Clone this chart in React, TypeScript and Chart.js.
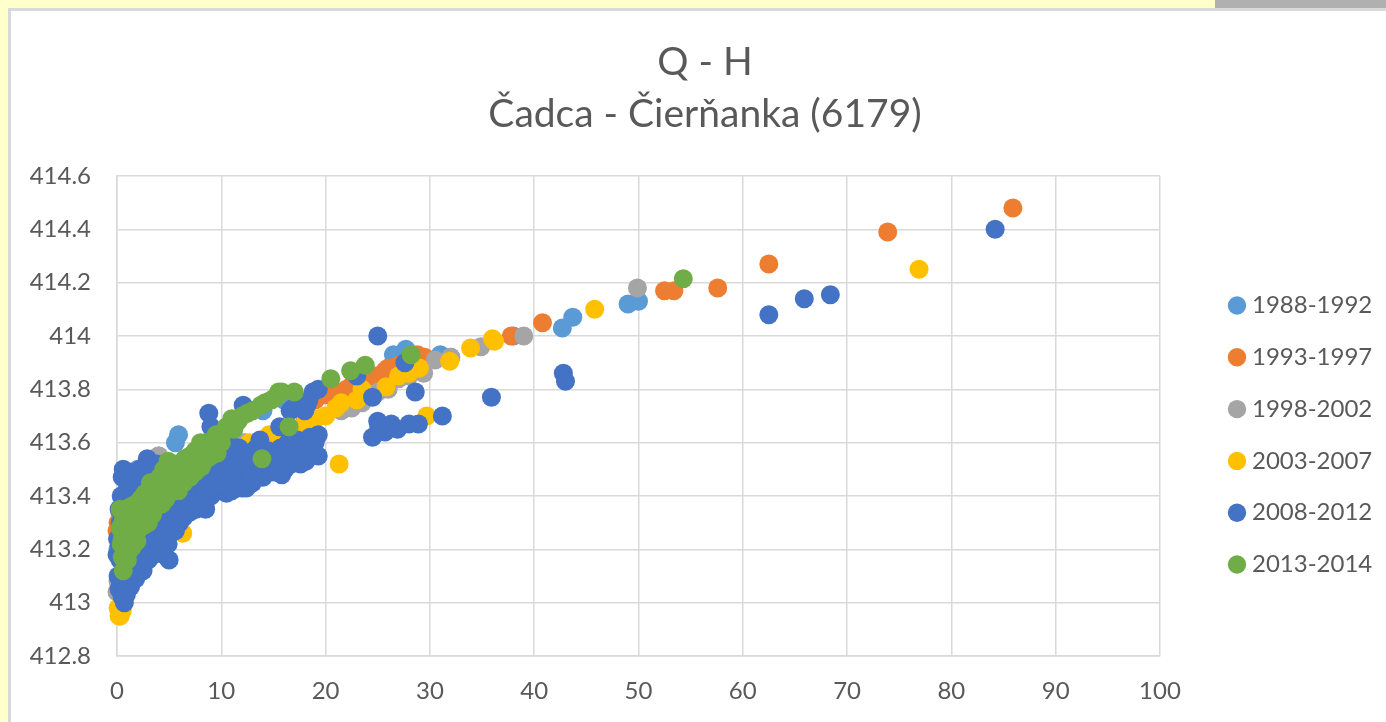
import React, { useEffect, useRef } from "react";
import { Chart, registerables } from "chart.js";

Chart.register(...registerables);

const seriesNames = ["1988-1992", "1993-1997", "1998-2002", "2003-2007", "2008-2012", "2013-2014"];
const seriesColors = ["#5B9BD5", "#ED7D31", "#A5A5A5", "#FFC000", "#4472C4", "#70AD47"];
const titleLines = ["Q - H", "Čadca - Čierňanka (6179)"];
const yTickLabels = ["412.8", "413", "413.2", "413.4", "413.6", "413.8", "414", "414.2", "414.4", "414.6"];

type P = [number, number];

const s1988: P[] = [
  [0.1, 413.2], [0.4, 413.3], [1, 413.4], [2, 413.5], [3, 413.53], [4, 413.55], [5.6, 413.6], [5.9, 413.63],
  [14, 413.72], [16, 413.76], [24, 413.85], [26.5, 413.93], [27.7, 413.95], [27.2, 413.91], [31, 413.93], [32, 413.92],
  [38, 414.0], [42.7, 414.03], [43.7, 414.07], [49, 414.12], [50, 414.13],
];
const s1993: P[] = [
  [0, 413.27], [0.1, 413.3], [0.3, 413.33], [12.3, 413.6], [18, 413.74], [19, 413.76], [20, 413.78], [21, 413.79],
  [22, 413.8], [22.6, 413.82], [23, 413.81], [24, 413.83], [24.7, 413.85], [25, 413.85], [25.7, 413.87], [26, 413.88],
  [27, 413.89], [28, 413.9], [28.8, 413.93], [29.5, 413.92], [37.8, 414.0], [40.8, 414.05], [52.5, 414.17], [53.4, 414.17],
  [57.6, 414.18], [62.5, 414.27], [73.9, 414.39], [85.9, 414.48],
];
const s1998: P[] = [
  [0, 413.04], [0.1, 413.08], [4, 413.55], [12, 413.6], [18, 413.7], [21.5, 413.72], [22.5, 413.73], [23.5, 413.75],
  [24, 413.78], [25, 413.79], [26, 413.8], [27, 413.84], [28, 413.85], [29.4, 413.86], [30.5, 413.91], [32, 413.92],
  [34.9, 413.96], [39, 414.0], [49.9, 414.18],
];
const s2003: P[] = [
  [0.2, 412.95], [0.3, 412.95], [0.1, 412.98], [0.5, 412.97], [0.7, 413.0], [6.3, 413.26], [12, 413.53], [13.5, 413.55],
  [12.7, 413.6], [14, 413.56], [14.6, 413.63], [15, 413.6], [15.6, 413.64], [16, 413.62], [16.5, 413.66], [17, 413.65],
  [18, 413.67], [19, 413.69], [20, 413.7], [21, 413.73], [21.5, 413.75], [23, 413.76], [25.8, 413.81], [27, 413.85],
  [28, 413.86], [29, 413.88], [23.5, 413.8], [29.7, 413.7], [21.3, 413.52], [31.9, 413.905], [33.9, 413.955], [36, 413.99],
  [36.2, 413.98], [45.8, 414.1], [76.9, 414.25],
];
const s2008: P[] = [
  [0, 413.18], [0.05, 413.24], [0.1, 413.1], [0.2, 413.05], [0.3, 413.16], [0.3, 413.3], [0.4, 413.4], [0.5, 413.47],
  [0.6, 413.5], [0.5, 413.02], [0.7, 413.0], [0.9, 413.03], [0.8, 413.12], [0.9, 413.21], [1, 413.33], [1, 413.43],
  [1.1, 413.49], [1.3, 413.06], [1.4, 413.14], [1.5, 413.25], [1.6, 413.38], [1.5, 413.46], [1.8, 413.09], [2, 413.18],
  [2, 413.3], [2.1, 413.41], [2.2, 413.5], [2.5, 413.12], [2.6, 413.22], [2.7, 413.34], [2.6, 413.45], [2.9, 413.54],
  [3, 413.16], [3.2, 413.27], [3.3, 413.39], [3.4, 413.48], [3.5, 413.18], [3.8, 413.23], [3.9, 413.33], [4, 413.43],
  [4.2, 413.5], [4.5, 413.25], [4.6, 413.35], [4.8, 413.46], [5, 413.16], [5, 413.27], [5.3, 413.3], [5.4, 413.4],
  [5.6, 413.5], [6, 413.3], [6.1, 413.38], [6.3, 413.47], [6.6, 413.53], [7, 413.34], [7.1, 413.43], [7.4, 413.5],
  [7.6, 413.35], [8, 413.36], [8.2, 413.45], [8.5, 413.35], [8.6, 413.53], [8.8, 413.71], [9, 413.66], [9, 413.4],
  [9.2, 413.48], [9.4, 413.58], [9.8, 413.42], [10, 413.5], [10.3, 413.56], [10.5, 413.41], [10.8, 413.46], [11, 413.42],
  [11.3, 413.52], [11.7, 413.58], [12, 413.43], [12.1, 413.74], [12.3, 413.47], [12.5, 413.53], [13, 413.45], [13.2, 413.5],
  [13.4, 413.58], [13.7, 413.61], [14, 413.47], [14.3, 413.53], [15, 413.49], [15.3, 413.55], [15.6, 413.66], [15.8, 413.48],
  [16, 413.54], [16.4, 413.6], [16.6, 413.72], [17, 413.56], [17.3, 413.61], [17.6, 413.52], [18, 413.57], [18.2, 413.74],
  [18.5, 413.55], [18.5, 413.62], [18.8, 413.79], [19.3, 413.55], [19.3, 413.63], [19.3, 413.8], [23, 413.85], [24.5, 413.62],
  [24.5, 413.77], [25, 413.68], [25.1, 413.66], [25, 414.0], [25.7, 413.64], [26.3, 413.67], [26.9, 413.65], [28, 413.67],
  [28.6, 413.79], [27.6, 413.9], [28.9, 413.67], [31.2, 413.7], [35.9, 413.77], [42.8, 413.86], [43, 413.83], [62.5, 414.08],
  [65.9, 414.14], [68.4, 414.155], [84.2, 414.4],
  [0.3, 413.08], [0.2, 413.22], [0.2, 413.35], [0.4, 413.27], [0.7, 413.08], [0.7, 413.17], [0.8, 413.29], [0.8, 413.38],
  [1.2, 413.1], [1.2, 413.19], [1.3, 413.29], [1.3, 413.42], [1.7, 413.15], [1.8, 413.22], [1.8, 413.34], [1.8, 413.45],
  [2.3, 413.16], [2.3, 413.26], [2.4, 413.37], [2.5, 413.5], [2.9, 413.2], [2.9, 413.3], [3, 413.42], [3.1, 413.52],
  [3.5, 413.24], [3.6, 413.35], [3.7, 413.45], [3.8, 413.52], [4.2, 413.2], [4.2, 413.3], [4.3, 413.39], [4.5, 413.48],
  [4.5, 413.18], [4.9, 413.22], [5, 413.33], [5, 413.43], [5.2, 413.52], [5.6, 413.27], [5.7, 413.35], [5.8, 413.44],
  [6.4, 413.32], [6.5, 413.42], [6.6, 413.47], [6.9, 413.39], [7, 413.48], [7.2, 413.55], [7.7, 413.4], [7.8, 413.47],
  [7.9, 413.54], [8.3, 413.38], [8.5, 413.42], [8.7, 413.47], [9.1, 413.43], [9.3, 413.53], [9.6, 413.46], [9.7, 413.52],
  [9.9, 413.6], [10.2, 413.44], [10.4, 413.5], [10.7, 413.53], [10.9, 413.59], [11.2, 413.46], [11.5, 413.43], [11.6, 413.5],
  [11.9, 413.54], [12.2, 413.56], [12.4, 413.43], [12.7, 413.49], [12.8, 413.55], [13.1, 413.57], [13.5, 413.47], [13.6, 413.53],
  [13.9, 413.57], [14.2, 413.49], [14.5, 413.57], [14.7, 413.51], [14.9, 413.55], [15.1, 413.52], [15.5, 413.5], [15.7, 413.58],
  [16.1, 413.5], [16.3, 413.56], [16.7, 413.52], [16.8, 413.59], [17.2, 413.54], [17.7, 413.59], [18.1, 413.53], [18.3, 413.59],
  [18.8, 413.57], [19, 413.6], [16.9, 413.73], [17.4, 413.75], [18, 413.72], [18.4, 413.76],
];
const s2013: P[] = [
  [0.6, 413.12], [0.5, 413.17], [0.4, 413.22], [0.3, 413.28], [0.3, 413.35], [0.7, 413.2], [0.8, 413.27], [0.9, 413.35],
  [1.1, 413.19], [1.2, 413.27], [1.3, 413.36], [1.9, 413.23], [1.7, 413.3], [1.8, 413.37], [2.2, 413.32], [2.3, 413.39],
  [2.6, 413.29], [2.8, 413.36], [3.2, 413.45], [3.4, 413.33], [3.6, 413.41], [4.3, 413.37], [4.1, 413.47], [4.9, 413.53],
  [5, 413.41], [5.2, 413.47], [5.9, 413.42], [6.1, 413.5], [7, 413.55], [7, 413.47], [8.1, 413.51], [8, 413.6],
  [8.5, 413.6], [9, 413.55], [9.6, 413.56], [9.5, 413.63], [10.5, 413.66], [11, 413.69], [12, 413.7], [13, 413.72],
  [13.8, 413.74], [13.9, 413.54], [14.8, 413.76], [15.5, 413.79], [15.8, 413.79], [16.5, 413.66], [17, 413.79], [20.5, 413.84],
  [22.4, 413.87], [23.8, 413.89], [28.2, 413.93], [54.3, 414.215],
  [0.5, 413.24], [0.6, 413.31], [1, 413.16], [1.5, 413.21], [1.5, 413.32], [2, 413.27], [2.1, 413.36], [2.5, 413.34],
  [2.7, 413.41], [3, 413.3], [3, 413.39], [3.7, 413.36], [3.8, 413.45], [4.4, 413.43], [4.5, 413.5], [4.7, 413.39],
  [5.5, 413.44], [5.5, 413.52], [6.4, 413.45], [6.5, 413.54], [6.8, 413.51], [7.5, 413.49], [7.5, 413.57], [8.6, 413.54],
  [9.2, 413.6], [10, 413.6], [10.2, 413.64], [11.2, 413.65], [11.6, 413.68], [12.5, 413.71], [14.2, 413.75], [15.2, 413.77],
];

const seriesData = [s1988, s1993, s1998, s2003, s2008, s2013];

export default function App() {
  const ref = useRef<HTMLCanvasElement>(null);
  useEffect(() => {
    document.body.style.margin = "0";
    document.body.style.overflow = "hidden";
    const font = "Lato, 'Open Sans', sans-serif";
    const chart = new Chart(ref.current!, {
      type: "scatter",
      data: {
        datasets: seriesData.map((d, i) => ({
          label: seriesNames[i],
          data: d.map(([x, y]) => ({ x, y })),
          backgroundColor: seriesColors[i],
          borderColor: seriesColors[i],
          pointRadius: 9.5,
          pointBorderWidth: 0,
          pointHoverRadius: 9.5,
          order: seriesData.length - i,
          clip: false,
        })),
      },
      plugins: [
        {
          id: "placeBoxes",
          afterLayout(c: any) {
            c.titleBlock.left = 0;
            c.titleBlock.right = 1362;
            const lg = c.legend;
            const dy = 74;
            lg.left = 1234 - 24 - 27.8;
            lg.right = 1362;
            lg.top += dy;
            lg.bottom += dy;
          },
        },
      ],
      options: {
        animation: false,
        responsive: false,
        layout: { padding: { right: 50, left: 0, top: 0, bottom: 0 } },
        plugins: {
          tooltip: { enabled: false },
          title: {
            display: true,
            text: titleLines,
            color: "#595959",
            font: { family: font, size: 39, weight: "normal", lineHeight: 52 / 39 },
            padding: { top: 36, bottom: 36 },
          },
          legend: {
            display: true,
            position: "right",
            labels: {
              usePointStyle: true,
              pointStyle: "circle",
              boxWidth: 6,
              boxHeight: 13,
              padding: 27.8,
              color: "#595959",
              font: { family: font, size: 24 },
              generateLabels: () =>
                seriesNames.map((n, i) => ({
                  text: n,
                  fillStyle: seriesColors[i],
                  strokeStyle: seriesColors[i],
                  lineWidth: 0,
                  pointStyle: "circle",
                  fontColor: "#595959",
                  datasetIndex: i,
                  hidden: false,
                })),
            },
          },
        },
        scales: {
          x: {
            type: "linear",
            min: 0,
            max: 100,
            ticks: { stepSize: 10, color: "#595959", font: { family: font, size: 24 }, padding: 21, maxRotation: 0 },
            grid: { color: "#D9D9D9", lineWidth: 1.5, drawTicks: false },
            border: { color: "#D9D9D9", width: 1.5 },
            afterFit: (s: any) => { s.height = 66; },
          },
          y: {
            type: "linear",
            min: 412.8,
            max: 414.6,
            afterBuildTicks: (s: any) => {
              s.ticks = yTickLabels.map((v) => ({ value: Number(v) }));
            },
            ticks: {
              color: "#595959",
              font: { family: font, size: 24 },
              padding: 26,
              callback: (v: any) => yTickLabels.find((t) => Number(t) === Number(v)) ?? "",
            },
            grid: { color: "#D9D9D9", lineWidth: 1.5, drawTicks: false },
            border: { color: "#D9D9D9", width: 1.5 },
            afterFit: (s: any) => { s.width = 93; },
          },
        },
      },
    } as any);
    return () => chart.destroy();
  }, []);

  return (
    <div style={{ position: "absolute", left: 0, top: 0, width: 1386, height: 722, background: "#FFFFCC", overflow: "hidden" }}>
      <div style={{ position: "absolute", left: 1215, top: 0, width: 171, height: 9, background: "#B0B0B0" }} />
      <div
        style={{
          position: "absolute",
          left: 8,
          top: 8,
          width: 1378,
          height: 714,
          background: "#FFFFFF",
          borderLeft: "3px solid #D9D9D9",
          borderTop: "3px solid #D9D9D9",
          boxSizing: "border-box",
        }}
      />
      <canvas ref={ref} width={1362} height={722} style={{ position: "absolute", left: 24, top: 0, width: 1362, height: 722 }} />
    </div>
  );
}
